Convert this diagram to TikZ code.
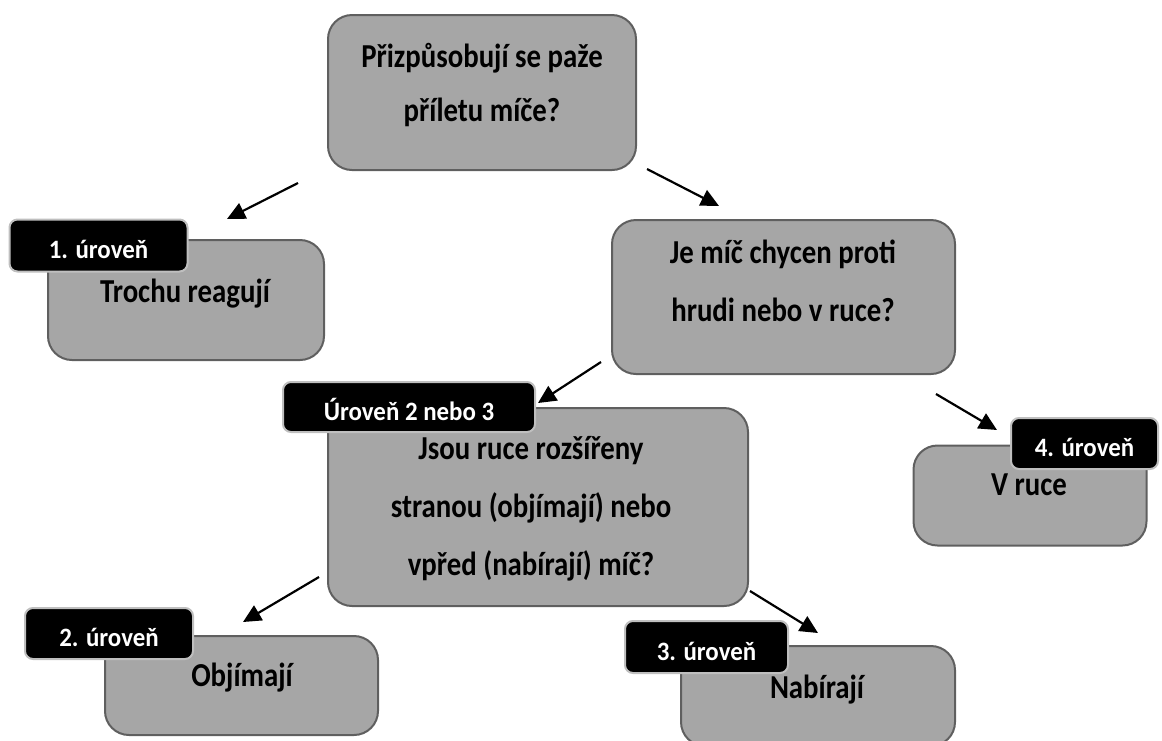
\documentclass[tikz,border=0pt]{standalone}
\usepackage{fontspec}
\setmainfont{Carlito}
\newfontfamily\sayfont[FakeStretch=0.86]{Carlito}
\newfontfamily\tagfont[FakeStretch=0.94]{Carlito}
\usetikzlibrary{arrows.meta}
\definecolor{boxgray}{HTML}{A6A6A6}
\definecolor{boxline}{HTML}{5F5F5F}
\definecolor{tagline}{HTML}{BFBFBF}

\begin{document}
\begin{tikzpicture}[x=1pt,y=-1pt,
    stage/.style={draw=boxline, fill=boxgray, line width=2pt, rounded corners=24pt, inner sep=0pt},
    tag/.style={draw=tagline, fill=black, line width=2pt, rounded corners=8pt, inner sep=0pt,
      text=white, font=\tagfont\fontsize{26.5}{26.5}\selectfont\bfseries, text height=26.7pt, text depth=0pt},
    says/.style={font=\sayfont\fontsize{33.5}{58}\selectfont\bfseries, align=center, inner sep=0pt},
    arr/.style={line width=2.2pt, -{Triangle[length=18pt,width=17pt]}}]
  \clip (0,0) rectangle (1162,740);

  % question boxes
  \node[stage, minimum width=308, minimum height=155] (q1) at (482,92.5) {};
  \node[says, font=\sayfont\fontsize{33.5}{54}\selectfont\bfseries] (q1txt) at (482,85) {Přizpůsobují se paže\\příletu míče?};
  \node[stage, minimum width=343, minimum height=154] (q2) at (783.5,297) {};
  \node[says] (q2txt) at (783,281) {Je míč chycen proti\\hrudi nebo v ruce?};
  \node[stage, minimum width=420, minimum height=198] (q3) at (538,507) {};
  \node[says] (q3txt) at (531,508.5) {Jsou ruce rozšířeny\\stranou (objímají) nebo\\vpřed (nabírají) míč?};

  % answer boxes
  \node[stage, minimum width=276, minimum height=120] (r1) at (186,300) {};
  \node[says, anchor=base] (r1txt) at (185,302) {Trochu reagují};
  \node[stage, minimum width=273, minimum height=99] (r2) at (241.5,685.5) {};
  \node[says, anchor=base] (r2txt) at (242,686) {Objímají};
  \node[stage, minimum width=274, minimum height=100] (r3) at (818,696) {};
  \node[says, anchor=base] (r3txt) at (817,698) {Nabírají};
  \node[stage, minimum width=233, minimum height=100] (r4) at (1030,495.5) {};
  \node[says, anchor=base] (r4txt) at (1029,495) {V ruce};

  % level tags
  \node[tag, minimum width=178, minimum height=52] (t1) at (98.5,245.5) {1. úroveň};
  \node[tag, minimum width=252, minimum height=50] (t23) at (409,407) {Úroveň 2 nebo 3};
  \node[tag, minimum width=147, minimum height=51] (t4) at (1084.5,443.5) {4. úroveň};
  \node[tag, minimum width=168, minimum height=51] (t2) at (109,633.5) {2. úroveň};
  \node[tag, minimum width=163, minimum height=52] (t3) at (706.5,647) {3. úroveň};

  % arrows
  \coordinate (a1s) at (298,183);  \coordinate (a1e) at (227,219);
  \coordinate (a2s) at (647,169);  \coordinate (a2e) at (719,206);
  \coordinate (a3s) at (601,362);  \coordinate (a3e) at (538,403);
  \coordinate (a4s) at (936,394);  \coordinate (a4e) at (997,430);
  \coordinate (a5s) at (319,577);  \coordinate (a5e) at (243,622);
  \coordinate (a6s) at (750,591);  \coordinate (a6e) at (818,633);
  \foreach \i in {1,...,6}
    \draw[arr] (a\i s) -- (a\i e);
\end{tikzpicture}
\end{document}
